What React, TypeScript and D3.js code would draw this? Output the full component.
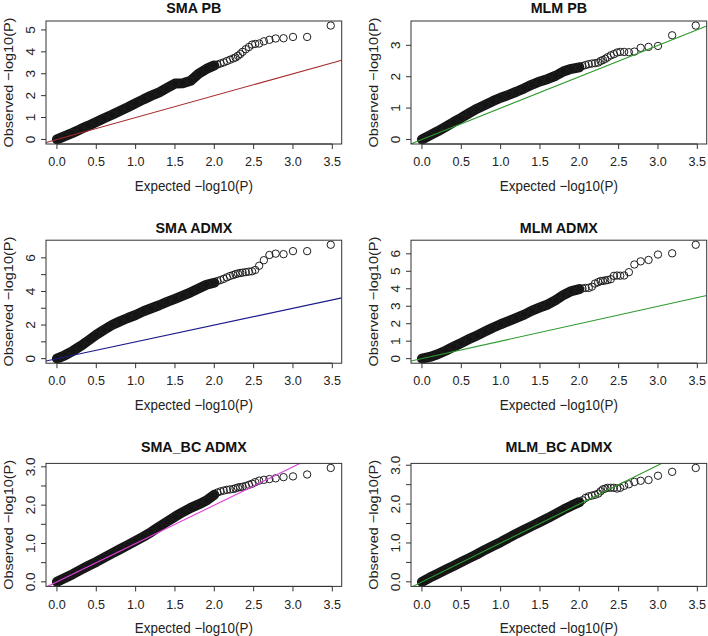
import React from "react";
import * as d3 from "d3";

// Expected -log10(P) positions
const bulkExpected = [0, 0.1, 0.2, 0.3, 0.4, 0.5, 0.6, 0.7, 0.8, 0.9, 1.0, 1.1, 1.2, 1.3, 1.4, 1.5, 1.6, 1.7, 1.8, 1.9, 2.0];
const tailExpected = [3.48, 3.18, 3.0, 2.88, 2.78, 2.7, 2.63, 2.57, 2.52, 2.48, 2.44, 2.4, 2.36, 2.33, 2.3, 2.27, 2.24, 2.2, 2.16, 2.12, 2.08, 2.04];

// Observed -log10(P), dense band (aligned with bulkExpected)
const smaPbBulk = [0, 0.15, 0.3, 0.47, 0.63, 0.8, 0.97, 1.13, 1.3, 1.47, 1.65, 1.83, 2.0, 2.15, 2.35, 2.55, 2.57, 2.68, 3.0, 3.22, 3.38];
const mlmPbBulk = [0, 0.13, 0.26, 0.4, 0.55, 0.69, 0.84, 0.98, 1.1, 1.22, 1.33, 1.42, 1.52, 1.63, 1.75, 1.85, 1.93, 2.03, 2.17, 2.25, 2.3];
const smaAdmxBulk = [0, 0.2, 0.45, 0.75, 1.08, 1.42, 1.72, 2.0, 2.22, 2.42, 2.6, 2.82, 3.0, 3.18, 3.38, 3.56, 3.75, 3.95, 4.17, 4.4, 4.52];
const mlmAdmxBulk = [0, 0.1, 0.25, 0.45, 0.68, 0.9, 1.12, 1.33, 1.55, 1.77, 1.97, 2.15, 2.33, 2.52, 2.75, 2.93, 3.1, 3.35, 3.65, 3.87, 3.98];
const smaBcBulk = [0, 0.1, 0.2, 0.31, 0.42, 0.52, 0.63, 0.74, 0.85, 0.96, 1.07, 1.18, 1.3, 1.44, 1.57, 1.7, 1.82, 1.93, 2.02, 2.12, 2.27];
const mlmBcBulk = [0, 0.11, 0.21, 0.31, 0.41, 0.51, 0.61, 0.71, 0.82, 0.92, 1.02, 1.13, 1.24, 1.34, 1.44, 1.54, 1.64, 1.75, 1.86, 1.96, 2.05];

// Observed -log10(P), sparse upper tail (aligned with tailExpected)
const smaPbTail = [5.2, 4.68, 4.68, 4.62, 4.61, 4.55, 4.48, 4.38, 4.36, 4.33, 4.22, 4.12, 4.0, 3.9, 3.82, 3.74, 3.7, 3.64, 3.58, 3.52, 3.47, 3.42];
const mlmPbTail = [3.63, 3.32, 2.98, 2.95, 2.92, 2.8, 2.78, 2.79, 2.79, 2.77, 2.72, 2.68, 2.62, 2.57, 2.53, 2.5, 2.45, 2.43, 2.42, 2.4, 2.37, 2.34];
const smaAdmxTail = [6.78, 6.4, 6.4, 6.22, 6.25, 6.17, 5.86, 5.53, 5.28, 5.2, 5.18, 5.15, 5.12, 5.1, 5.07, 5.03, 4.98, 4.92, 4.84, 4.75, 4.68, 4.62];
const mlmAdmxTail = [6.52, 6.03, 5.96, 5.65, 5.57, 5.39, 4.95, 4.76, 4.75, 4.76, 4.74, 4.55, 4.5, 4.48, 4.45, 4.44, 4.38, 4.3, 4.12, 4.05, 4.05, 4.02];
const smaBcTail = [2.97, 2.8, 2.75, 2.73, 2.7, 2.68, 2.66, 2.64, 2.6, 2.56, 2.53, 2.5, 2.48, 2.47, 2.46, 2.44, 2.42, 2.41, 2.4, 2.38, 2.36, 2.33];
const mlmBcTail = [2.93, 2.83, 2.73, 2.62, 2.6, 2.57, 2.51, 2.47, 2.42, 2.4, 2.42, 2.42, 2.42, 2.4, 2.38, 2.33, 2.27, 2.24, 2.22, 2.2, 2.16, 2.1];

const panelTitles = ["SMA PB", "MLM PB", "SMA ADMX", "MLM ADMX", "SMA_BC ADMX", "MLM_BC ADMX"];
const xTickValues = [0, 0.5, 1, 1.5, 2, 2.5, 3, 3.5];
const yTicksPb = [0, 1, 2, 3, 4, 5];
const yTicksMlmPb = [0, 1, 2, 3];
const yTicksAdmx = [0, 1, 2, 3, 4, 5, 6];
const yLabelsSmaAdmx = [0, 2, 4, 6];
const yTicksBc = [0, 0.5, 1, 1.5, 2, 2.5, 3];
const yLabelsBc = [0, 1, 2, 3];

const xLabel = "Expected \u2212log10(P)";
const yLabel = "Observed \u2212log10(P)";

// layout / style
const colLeft = [46, 411];
const rowTop = [21, 240.2, 463.4];
const boxW = 295.7;
const boxH = 123;
const titleOffset = [12.7, 12.2, 16.5];
const FONT = "'Liberation Sans', Arial, Helvetica, sans-serif";
const SY = 1.08;

const panels = [
  { title: panelTitles[0], bulk: smaPbBulk, tail: smaPbTail, color: "#a52a2a", col: 0, row: 0, yTicks: yTicksPb, yLabels: yTicksPb, fmt: d3.format("d") },
  { title: panelTitles[1], bulk: mlmPbBulk, tail: mlmPbTail, color: "#2e9a2e", col: 1, row: 0, yTicks: yTicksMlmPb, yLabels: yTicksMlmPb, fmt: d3.format("d") },
  { title: panelTitles[2], bulk: smaAdmxBulk, tail: smaAdmxTail, color: "#1c1c8c", col: 0, row: 1, yTicks: yTicksAdmx, yLabels: yLabelsSmaAdmx, fmt: d3.format("d") },
  { title: panelTitles[3], bulk: mlmAdmxBulk, tail: mlmAdmxTail, color: "#2e9a2e", col: 1, row: 1, yTicks: yTicksAdmx, yLabels: yTicksAdmx, fmt: d3.format("d") },
  { title: panelTitles[4], bulk: smaBcBulk, tail: smaBcTail, color: "#e03ee0", col: 0, row: 2, yTicks: yTicksBc, yLabels: yLabelsBc, fmt: d3.format(".1f") },
  { title: panelTitles[5], bulk: mlmBcBulk, tail: mlmBcTail, color: "#2e9a2e", col: 1, row: 2, yTicks: yTicksBc, yLabels: yLabelsBc, fmt: d3.format(".1f") },
];

function Panel({ p, idx }: { p: any; idx: number }) {
  const x0 = colLeft[p.col];
  const y0 = rowTop[p.row];
  const allX = [...bulkExpected, ...tailExpected];
  const allY = [...p.bulk, ...p.tail];
  const [xmin, xmax] = d3.extent(allX) as [number, number];
  const [ymin, ymax] = d3.extent(allY) as [number, number];
  const xr = xmax - xmin;
  const yr = ymax - ymin;
  const x = d3.scaleLinear().domain([xmin - 0.04 * xr, xmax + 0.04 * xr]).range([x0, x0 + boxW]);
  const y = d3.scaleLinear().domain([ymin - 0.04 * yr, ymax + 0.04 * yr]).range([y0 + boxH, y0]);
  const band = bulkExpected.map((e, i) => [e, p.bulk[i]] as [number, number]);
  const tail = tailExpected.map((e, i) => [e, p.tail[i]] as [number, number]);
  const line = d3.line<[number, number]>().x((d) => x(d[0])).y((d) => y(d[1]));
  const [dx0, dx1] = x.domain();
  const clipId = `clip${idx}`;
  const yb = y0 + boxH;
  const xl = x0;
  return (
    <g>
      <defs>
        <clipPath id={clipId}>
          <rect x={x0} y={y0} width={boxW} height={boxH} />
        </clipPath>
      </defs>
      {/* title */}
      <text
        transform={`translate(${x0 + boxW / 2},${y0 - titleOffset[p.row]}) scale(1,${SY})`}
        textAnchor="middle"
        dominantBaseline="central"
        fontFamily={FONT}
        fontWeight="bold"
        fontSize={14.3}
        fill="#111"
      >
        {p.title}
      </text>
      <g clipPath={`url(#${clipId})`}>
        <path d={line(band) || ""} fill="none" stroke="#141414" strokeWidth={10} strokeLinecap="round" strokeLinejoin="round" />
        {band.concat(tail).map((d, i) => (
          <circle key={i} cx={x(d[0])} cy={y(d[1])} r={3.7} fill="none" stroke="#1e1e1e" strokeWidth={1} />
        ))}
        <line x1={x(dx0)} y1={y(dx0)} x2={x(dx1)} y2={y(dx1)} stroke={p.color} strokeWidth={1.1} />
      </g>
      {/* box */}
      <rect x={x0} y={y0} width={boxW} height={boxH} fill="none" stroke="#333" strokeWidth={1} />
      {/* x axis */}
      <line x1={x(xTickValues[0])} x2={x(xTickValues[xTickValues.length - 1])} y1={yb} y2={yb} stroke="#333" />
      {xTickValues.map((t) => (
        <g key={t}>
          <line x1={x(t)} x2={x(t)} y1={yb} y2={yb + 5} stroke="#333" />
          <text
            transform={`translate(${x(t)},${yb + 17.5}) scale(1,${SY})`}
            textAnchor="middle"
            dominantBaseline="central"
            fontFamily={FONT}
            fontSize={12.6}
            fill="#222"
          >
            {d3.format(".1f")(t)}
          </text>
        </g>
      ))}
      <text
        transform={`translate(${x0 + boxW / 2},${yb + 41.5}) scale(1,${SY})`}
        textAnchor="middle"
        dominantBaseline="central"
        fontFamily={FONT}
        fontSize={13.4}
        fill="#222"
      >
        {xLabel}
      </text>
      {/* y axis */}
      {p.yTicks.map((t: number) => (
        <line key={t} x1={xl - 5} x2={xl} y1={y(t)} y2={y(t)} stroke="#333" />
      ))}
      {p.yLabels.map((t: number) => (
        <text
          key={t}
          transform={`translate(${xl - 15},${y(t)}) scale(1,${SY}) rotate(-90)`}
          textAnchor="middle"
          dominantBaseline="central"
          fontFamily={FONT}
          fontSize={12.6}
          fill="#222"
        >
          {p.fmt(t)}
        </text>
      ))}
      <text
        transform={`translate(${xl - 37.5},${y0 + boxH / 2}) scale(1,${SY}) rotate(-90)`}
        textAnchor="middle"
        dominantBaseline="central"
        fontFamily={FONT}
        fontSize={13.4}
        fill="#222"
      >
        {yLabel}
      </text>
    </g>
  );
}

export default function App() {
  return (
    <svg
      width={708}
      height={636}
      viewBox="0 0 708 636"
      style={{ position: "absolute", left: 0, top: 0, background: "#fff", display: "block" }}
    >
      <rect x={0} y={0} width={708} height={636} fill="#fff" />
      {panels.map((p, i) => (
        <Panel key={i} p={p} idx={i} />
      ))}
    </svg>
  );
}
